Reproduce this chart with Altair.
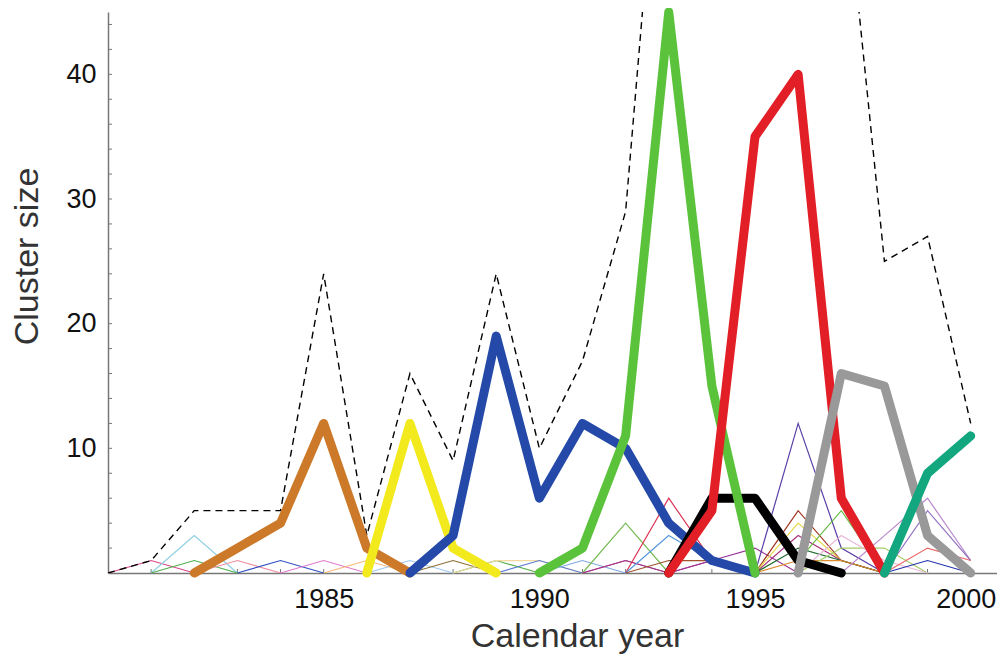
import altair as alt
import pandas as pd

# ---------------- data ----------------
TOTAL_START = 1980
TOTAL_VALUES = [0, 1, 5, 5, 5, 24, 3, 16, 9, 24, 10, 17, 29, 70, 68, 62, 75, 59, 25, 27, 12]

THICK_NAMES = ["brown", "yellow", "blue", "black", "green", "red", "gray", "teal"]
THICK_START = [1982, 1986, 1987, 1993, 1990, 1993, 1996, 1998]
THICK_VALUES = [
    [0, 2, 4, 12, 2, 0],
    [0, 12, 2, 0],
    [0, 3, 19, 6, 12, 10, 4, 1, 0],
    [0, 6, 6, 1, 0],
    [0, 2, 11, 45, 15, 0],
    [0, 5, 35, 40, 6, 0],
    [0, 16, 15, 3, 0],
    [0, 8, 11],
]
THICK_COLORS = ["#CC7A29", "#F2EA1D", "#2449A8", "#000000", "#5BC33B", "#E21F26", "#999999", "#12A77F"]

THIN_START = [1980, 1981, 1981, 1982, 1983, 1984, 1985, 1986, 1987, 1988, 1988, 1989, 1990,
              1991, 1991, 1991, 1992, 1992, 1992, 1993, 1995, 1995, 1995, 1995, 1995, 1995,
              1996, 1996, 1996, 1997, 1998, 1998, 1998]
THIN_VALUES = [
    [0, 1, 0],
    [0, 3, 0],
    [0, 1, 0],
    [0, 1, 0],
    [0, 1, 0],
    [0, 1, 0],
    [0, 1, 0],
    [0, 1, 0],
    [0, 1, 0],
    [0, 1, 0],
    [0, 1, 1, 0],
    [0, 1, 0],
    [0, 1, 0],
    [0, 1, 0],
    [0, 4, 0],
    [0, 1, 0, 1, 0],
    [0, 6, 1, 0],
    [0, 3, 1, 0],
    [0, 1, 1, 0],
    [0, 1, 2, 0],
    [0, 12, 2, 0],
    [0, 5, 1, 0],
    [0, 4, 1, 0],
    [0, 3, 1, 0],
    [0, 2, 1, 0],
    [0, 1, 1, 0],
    [1, 5, 0],
    [0, 2, 2, 0],
    [0, 3, 1, 0],
    [0, 3, 6, 1],
    [0, 5, 1],
    [0, 2, 1],
    [0, 1, 0],
]
THIN_COLORS = ["#D8468C", "#8FD0E3", "#4DAF4A", "#F08CA0", "#3050C0", "#E07AD0", "#F8B878",
               "#9EC8F0", "#8C6D31", "#5AB04A", "#F3D9A0", "#5A7BD0", "#7FA8E0", "#8855AA",
               "#77BB55", "#B03080", "#DD3355", "#5599DD", "#A0522D", "#993399", "#5A3FA8",
               "#A0341E", "#E8D84A", "#A8307A", "#1E6B2E", "#E08A2E", "#66BB44", "#A3CC66",
               "#E8B8D8", "#BB88CC", "#9070C0", "#EE6666", "#2233AA"]

X_LABELS = [1985, 1990, 1995, 2000]
Y_LABELS = [10, 20, 30, 40]
X_TICKS = list(range(1981, 2001))
Y_TICKS = list(range(2, 45, 2))

# ---------------- frames ----------------
def series_rows(name, start, vals):
    return [{"series": name, "year": start + i, "value": v} for i, v in enumerate(vals)]

total_df = pd.DataFrame(series_rows("total", TOTAL_START, TOTAL_VALUES))
thin_rows = []
thin_ids = []
for i, (s, vals) in enumerate(zip(THIN_START, THIN_VALUES)):
    sid = f"t{i:02d}"
    thin_ids.append(sid)
    thin_rows += series_rows(sid, s, vals)
thin_df = pd.DataFrame(thin_rows)

W, H = 889, 561
FONT = "Liberation Sans"
xs = alt.Scale(domain=[1980, 2000.61], nice=False, zero=False)
ys = alt.Scale(domain=[0, 45], nice=False)

xaxis = alt.Axis(values=X_LABELS, format="d", ticks=False, grid=False,
                 domainColor="#777777", domainWidth=1.5,
                 labelFont=FONT, labelFontSize=27, labelColor="#111111", labelPadding=13,
                 labelFlush=False,
                 labelOffset={"expr": "datum.value == 2000 ? -5 : 0"},
                 title="Calendar year", titleFont=FONT, titleFontSize=34,
                 titleFontWeight="normal", titleColor="#333333",
                 titleX=469, titleY=73, titleBaseline="alphabetic", titleAlign="center")
yaxis = alt.Axis(values=Y_LABELS, format="d", ticks=False, grid=False,
                 domainColor="#777777", domainWidth=1.5,
                 labelFont=FONT, labelFontSize=27, labelColor="#111111", labelPadding=12,
                 title="Cluster size", titleFont=FONT, titleFontSize=34,
                 titleFontWeight="normal", titleColor="#333333",
                 titleAngle=270, titleX=-71, titleY=244,
                 titleBaseline="alphabetic", titleAlign="center")

X = alt.X("year:Q", scale=xs, axis=xaxis)
Y = alt.Y("value:Q", scale=ys, axis=yaxis)

layers = []

# inward ticks
xt = alt.Chart(pd.DataFrame({"year": X_TICKS})).mark_rule(color="#777777", strokeWidth=1).encode(
    x=X, y=alt.value(H), y2=alt.value(H - 4))
yt = alt.Chart(pd.DataFrame({"value": Y_TICKS})).mark_rule(color="#777777", strokeWidth=1).encode(
    y=Y, x=alt.value(0), x2=alt.value(4))
layers += [xt, yt]

thin = alt.Chart(thin_df).mark_line(strokeWidth=1.2).encode(
    x=X, y=Y,
    color=alt.Color("series:N", scale=alt.Scale(domain=thin_ids, range=THIN_COLORS), legend=None),
    detail="series:N")
layers.append(thin)

dashed = alt.Chart(total_df).mark_line(color="#000000", strokeWidth=1.4, strokeDash=[7, 5],
                                       clip=True).encode(x=X, y=Y)
layers.append(dashed)

for name, s, vals, col in zip(THICK_NAMES, THICK_START, THICK_VALUES, THICK_COLORS):
    df = pd.DataFrame(series_rows(name, s, vals))
    layers.append(alt.Chart(df).mark_line(color=col, strokeWidth=9, strokeCap="round",
                                          strokeJoin="round").encode(x=X, y=Y))

chart = alt.layer(*layers).properties(
    width=W, height=H,
    autosize=alt.AutoSizeParams(type="none"),
    padding={"left": 100, "top": 4, "right": 0, "bottom": 81},
    background="white",
).configure_view(stroke="transparent")

chart.save("out.html", embed_options={"renderer": "svg", "actions": False})
